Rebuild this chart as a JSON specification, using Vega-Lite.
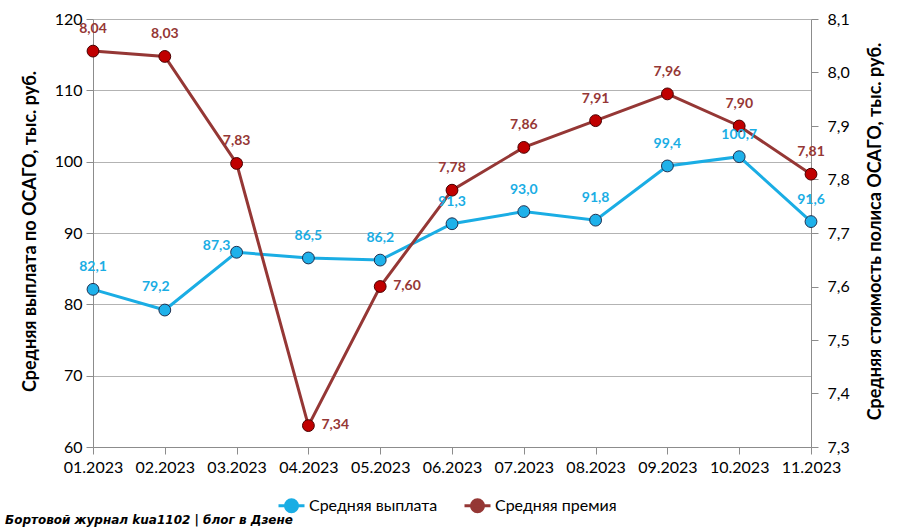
{
  "$schema": "https://vega.github.io/schema/vega-lite/v6.json",
  "width": 718,
  "height": 428,
  "autosize": "none",
  "padding": {"left": 93, "top": 19, "right": 90, "bottom": 83},
  "background": "white",
  "title": {
    "text": "Бортовой журнал kua1102 | блог в Дзене",
    "orient": "bottom",
    "anchor": "start",
    "frame": "group",
    "offset": 0,
    "dy": -3,
    "dx": -88,
    "font": "DejaVu Sans",
    "fontStyle": "italic",
    "fontWeight": "bold",
    "fontSize": 12,
    "color": "#000000"
  },
  "config": {
    "view": {"stroke": null},
    "font": "Lato",
    "axis": {
      "labelFont": "Lato",
      "titleFont": "Lato",
      "labelColor": "#000000",
      "titleColor": "#000000",
      "domainColor": "#8c8c8c",
      "tickColor": "#8c8c8c",
      "gridColor": "#b3b3b3",
      "labelFontSize": 16,
      "titleFontSize": 18,
      "titleFontWeight": "bold"
    },
    "legend": {
      "labelFont": "Lato",
      "labelFontSize": 16,
      "labelColor": "#000000"
    }
  },
  "data": {
    "values": [
      {"month": "01.2023", "payout": 82.1, "premium": 8.04},
      {"month": "02.2023", "payout": 79.2, "premium": 8.03},
      {"month": "03.2023", "payout": 87.3, "premium": 7.83},
      {"month": "04.2023", "payout": 86.5, "premium": 7.34},
      {"month": "05.2023", "payout": 86.2, "premium": 7.60},
      {"month": "06.2023", "payout": 91.3, "premium": 7.78},
      {"month": "07.2023", "payout": 93.0, "premium": 7.86},
      {"month": "08.2023", "payout": 91.8, "premium": 7.91},
      {"month": "09.2023", "payout": 99.4, "premium": 7.96},
      {"month": "10.2023", "payout": 100.7, "premium": 7.90},
      {"month": "11.2023", "payout": 91.6, "premium": 7.81}
    ]
  },
  "transform": [
    {"calculate": "replace(format(datum.payout, '.1f'), '.', ',')", "as": "plab"},
    {"calculate": "replace(format(datum.premium, '.2f'), '.', ',')", "as": "rlab"}
  ],
  "encoding": {
    "x": {
      "field": "month",
      "type": "ordinal",
      "scale": {"type": "point", "padding": 0},
      "axis": {"title": null, "labelAngle": 0, "tickSize": 7, "labelPadding": 5, "grid": false, "domainColor": "#8c8c8c"}
    }
  },
  "layer": [
    {
      "mark": {"type": "line", "strokeWidth": 3},
      "encoding": {
        "y": {
          "field": "payout", "type": "quantitative",
          "scale": {"domain": [60, 120], "nice": false, "zero": false},
          "axis": {
            "orient": "left",
            "values": [60, 70, 80, 90, 100, 110, 120],
            "grid": true,
            "tickSize": 7,
            "labelPadding": 4,
            "title": "Средняя выплата по ОСАГО, тыс. руб.",
            "titleAngle": -90,
            "titleX": -63,
            "titleY": 212,
            "titleAlign": "center",
            "titleBaseline": "middle"
          }
        },
        "color": {
          "datum": "Средняя выплата",
          "type": "nominal",
          "scale": {"domain": ["Средняя выплата", "Средняя премия"], "range": ["#1AADE4", "#953735"]},
          "legend": {
            "title": null,
            "orient": "none",
            "legendX": 184,
            "legendY": 472,
            "direction": "horizontal",
            "symbolType": "M-1,0H1M-0.46,0A0.46,0.46,0,1,0,0.46,0A0.46,0.46,0,1,0,-0.46,0",
            "symbolSize": 676,
            "symbolStrokeWidth": 3,
            "labelOffset": 3,
            "columnPadding": 20,
            "encode": {"symbols": {"update": {"fill": {"scale": "color", "field": "value"}}}}
          }
        }
      }
    },
    {
      "mark": {"type": "point", "filled": true, "size": 140, "fill": "#1EB1EA", "stroke": "#1f3050", "strokeWidth": 1, "opacity": 1},
      "encoding": {
        "y": {"field": "payout", "type": "quantitative", "scale": {"domain": [60, 120], "nice": false, "zero": false}, "axis": null}
      }
    },
    {
      "mark": {"type": "line", "strokeWidth": 3},
      "encoding": {
        "y": {
          "field": "premium", "type": "quantitative",
          "scale": {"domain": [7.3, 8.1], "nice": false, "zero": false},
          "axis": {
            "orient": "right",
            "values": [7.3, 7.4, 7.5, 7.6, 7.7, 7.8, 7.9, 8.0, 8.1],
            "grid": false,
            "tickSize": 7,
            "labelPadding": 9,
            "labelExpr": "replace(format(datum.value, '.1f'), '.', ',')",
            "title": "Средняя стоимость полиса ОСАГО, тыс. руб.",
            "titleAngle": -90,
            "titleX": 64,
            "titleY": 212,
            "titleAlign": "center",
            "titleBaseline": "middle"
          }
        },
        "color": {"datum": "Средняя премия", "type": "nominal"}
      }
    },
    {
      "mark": {"type": "point", "filled": true, "size": 140, "fill": "#C00000", "stroke": "#4a0000", "strokeWidth": 1, "opacity": 1},
      "encoding": {
        "y": {"field": "premium", "type": "quantitative", "scale": {"domain": [7.3, 8.1], "nice": false, "zero": false}, "axis": null}
      }
    },
    {
      "transform": [{"filter": "indexof(['02.2023', '03.2023'], datum.month) < 0"}],
      "mark": {"type": "text", "dy": -22, "fontWeight": "bold", "fontSize": 14, "font": "Lato", "color": "#1AADE4", "baseline": "middle"},
      "encoding": {
        "y": {"field": "payout", "type": "quantitative", "scale": {"domain": [60, 120], "nice": false, "zero": false}, "axis": null},
        "text": {"field": "plab"}
      }
    },
    {
      "transform": [{"filter": "datum.month == '02.2023'"}],
      "mark": {"type": "text", "dx": -9, "dy": -23, "fontWeight": "bold", "fontSize": 14, "font": "Lato", "color": "#1AADE4", "baseline": "middle"},
      "encoding": {
        "y": {"field": "payout", "type": "quantitative", "scale": {"domain": [60, 120], "nice": false, "zero": false}, "axis": null},
        "text": {"field": "plab"}
      }
    },
    {
      "transform": [{"filter": "datum.month == '03.2023'"}],
      "mark": {"type": "text", "dx": -20, "dy": -6, "fontWeight": "bold", "fontSize": 14, "font": "Lato", "color": "#1AADE4", "baseline": "middle"},
      "encoding": {
        "y": {"field": "payout", "type": "quantitative", "scale": {"domain": [60, 120], "nice": false, "zero": false}, "axis": null},
        "text": {"field": "plab"}
      }
    },
    {
      "transform": [{"filter": "indexof(['04.2023', '05.2023'], datum.month) < 0"}],
      "mark": {"type": "text", "dy": -22, "fontWeight": "bold", "fontSize": 14, "font": "Lato", "color": "#953735", "baseline": "middle"},
      "encoding": {
        "y": {"field": "premium", "type": "quantitative", "scale": {"domain": [7.3, 8.1], "nice": false, "zero": false}, "axis": null},
        "text": {"field": "rlab"}
      }
    },
    {
      "transform": [{"filter": "indexof(['04.2023', '05.2023'], datum.month) >= 0"}],
      "mark": {"type": "text", "dx": 13, "dy": -1, "align": "left", "fontWeight": "bold", "fontSize": 14, "font": "Lato", "color": "#953735", "baseline": "middle"},
      "encoding": {
        "y": {"field": "premium", "type": "quantitative", "scale": {"domain": [7.3, 8.1], "nice": false, "zero": false}, "axis": null},
        "text": {"field": "rlab"}
      }
    }
  ],
  "resolve": {"scale": {"y": "independent"}}
}
